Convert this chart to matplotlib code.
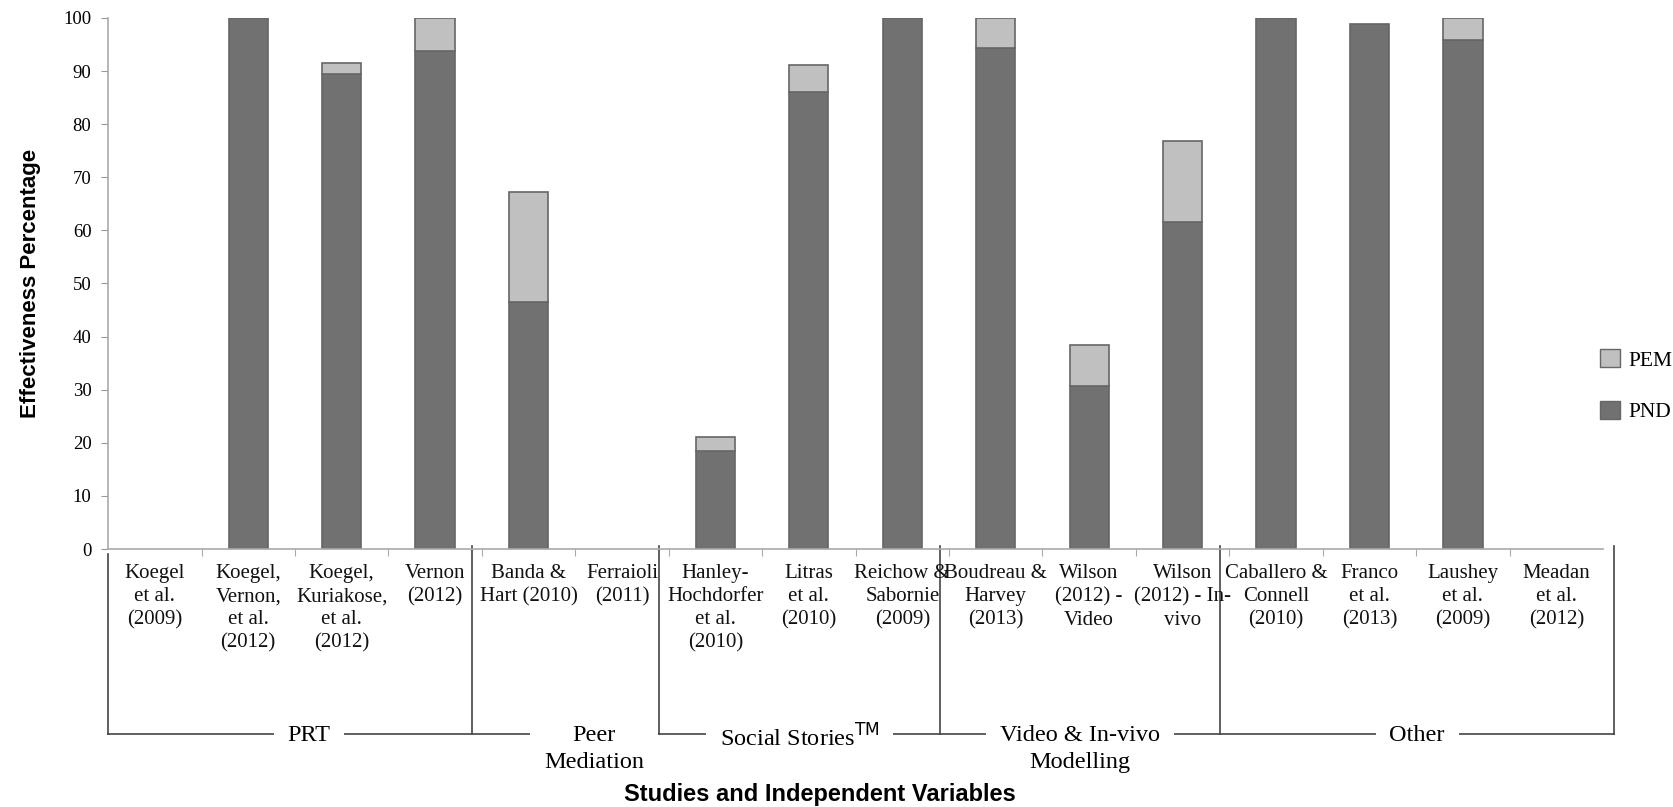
import matplotlib.pyplot as plt
import matplotlib.patches as mpatches

studies = ["Koegel\net al.\n(2009)", "Koegel,\nVernon,\net al.\n(2012)", "Koegel,\nKuriakose,\net al.\n(2012)",
           "Vernon\n(2012)", "Banda &\nHart (2010)", "Ferraioli\n(2011)", "Hanley-\nHochdorfer\net al.\n(2010)",
           "Litras\net al.\n(2010)", "Reichow &\nSabornie\n(2009)", "Boudreau &\nHarvey\n(2013)",
           "Wilson\n(2012) -\nVideo", "Wilson\n(2012) - In-\nvivo", "Caballero &\nConnell\n(2010)",
           "Franco\net al.\n(2013)", "Laushey\net al.\n(2009)", "Meadan\net al.\n(2012)"]
pnd = [0, 100, 89.5, 93.8, 46.6, 0, 18.4, 86.1, 100, 94.4, 30.7, 61.6, 100, 98.9, 95.8, 0]
pem = [0, 0, 2.0, 6.2, 20.7, 0, 2.6, 5.0, 0, 5.6, 7.8, 15.3, 0, 0, 4.2, 0]

groups = ["PRT", "Peer\nMediation", "Social Stories$^{\\mathrm{TM}}$", "Video & In-vivo\nModelling", "Other"]
group_sizes = [4, 2, 3, 3, 4]

serif = "Liberation Serif"
dark = "#717171"
light = "#c0c0c0"
edge = "#666666"

fig = plt.figure(figsize=(16.73, 8.07), dpi=100)
ax = fig.add_axes([0.0646, 0.3197, 0.8936, 0.658])

x = list(range(len(studies)))
pnd_edges = [edge if v > 0 else "none" for v in pnd]
pem_edges = [edge if v > 0 else "none" for v in pem]
ax.bar(x, pnd, width=0.42, color=dark, edgecolor=pnd_edges, linewidth=1.2, label="PND")
ax.bar(x, pem, width=0.42, bottom=pnd, color=light, edgecolor=pem_edges, linewidth=1.2, label="PEM")

ax.set_xlim(-0.5, len(studies) - 0.5)
ax.set_ylim(0, 100)
ax.set_yticks(range(0, 101, 10))
ax.tick_params(axis="y", direction="out", length=5, color="#999999", labelsize=13.5, pad=7)
for t in ax.get_yticklabels():
    t.set_fontfamily(serif)
ax.set_xticks([i - 0.5 for i in range(1, len(studies))])
ax.set_xticklabels([])
ax.tick_params(axis="x", direction="out", length=5, color="#aaaaaa")
for s in ["top", "right"]:
    ax.spines[s].set_visible(False)
ax.spines["left"].set_color("#aaaaaa")
ax.spines["bottom"].set_color("#aaaaaa")
ax.spines["left"].set_linewidth(1.2)
ax.spines["bottom"].set_linewidth(1.2)

tr = ax.get_xaxis_transform()
for i, lab in enumerate(studies):
    ax.text(i, -0.028, lab, transform=tr, ha="center", va="top", fontsize=15,
            family=serif, linespacing=1.3, color="#111111")

# group brackets
y_line = -0.348
edges = [-0.5]
for n in group_sizes:
    edges.append(edges[-1] + n)
seps = [edges[0]] + [e - 0.1 for e in edges[1:-1]] + [edges[-1] + 0.12]
for e in seps:
    ax.plot([e, e], [0.005 if e != seps[0] else -0.01, y_line], transform=tr, color="#444444",
            lw=1.2, clip_on=False)
ax.plot([seps[0], seps[-1]], [y_line, y_line], transform=tr, color="#444444", lw=1.2, clip_on=False)
for k, g in enumerate(groups):
    cx = (seps[k] + seps[k + 1]) / 2
    if k == 0:
        cx += 0.2
    if k == 1:
        cx += 0.3
    ax.text(cx, y_line + 0.017, g, transform=tr, ha="center", va="top", fontsize=17.5, family=serif,
            linespacing=1.4, zorder=5,
            bbox=dict(facecolor="white", edgecolor="none", pad=10))

ax.set_ylabel("Effectiveness Percentage", fontsize=16, fontweight="bold",
              family="Liberation Sans", labelpad=16)
fig.text(0.49, 0.001, "Studies and Independent Variables", ha="center", va="bottom",
         fontsize=17, fontweight="bold", family="Liberation Sans")

handles = [mpatches.Patch(facecolor=light, edgecolor=edge, label="PEM"),
           mpatches.Patch(facecolor=dark, edgecolor=edge, label="PND")]
fig.legend(handles=handles, loc="center left", bbox_to_anchor=(0.945, 0.522), frameon=False,
           prop={"family": serif, "size": 15.5}, handlelength=0.9, handleheight=0.9,
           handletextpad=0.4, labelspacing=1.4)

fig.savefig("out.png", dpi=100)
